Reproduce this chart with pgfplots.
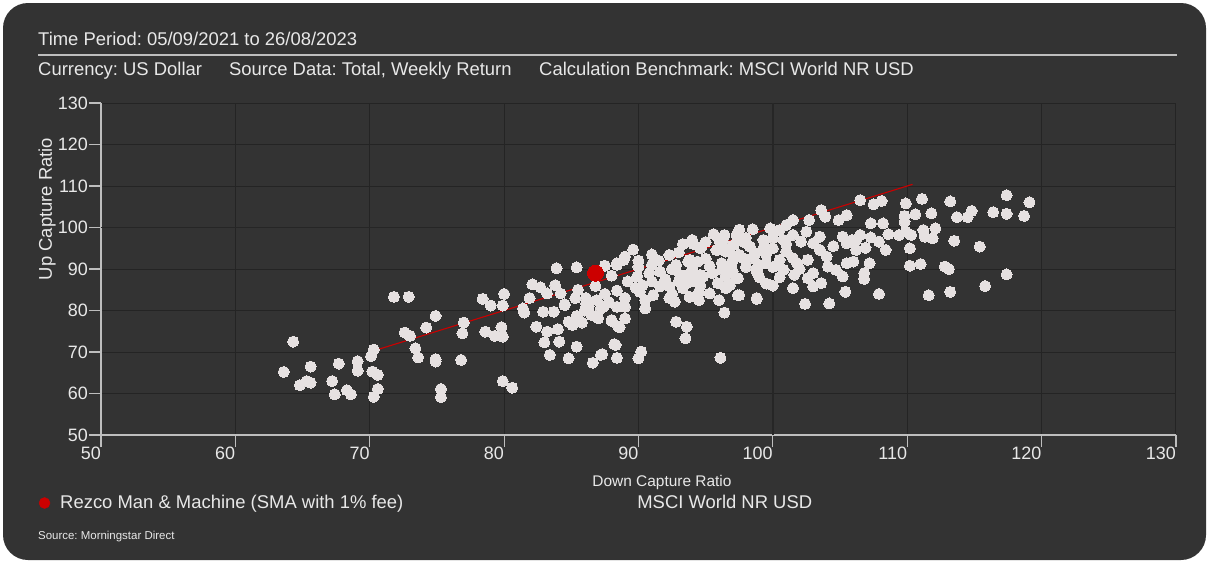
\documentclass[border=0pt]{standalone}
\usepackage{pgfplots}
\pgfplotsset{compat=1.18}
\usepackage{pgfplotstable}
\usepackage{fontspec}
\setmainfont{Liberation Sans}
\frenchspacing
\definecolor{bg}{RGB}{51,51,51}
\definecolor{txt}{RGB}{232,232,232}
\definecolor{ptc}{RGB}{230,225,225}
\definecolor{redc}{RGB}{204,0,0}
\definecolor{gridc}{RGB}{36,36,36}
\definecolor{axc}{RGB}{190,190,190}

\pgfplotstableread{
x y
71.8 83.3
72.9 83.3
74.9 78.7
74.2 75.9
72.6 74.7
73.0 73.9
64.3 72.5
70.3 70.6
70.1 69.0
73.4 70.9
73.6 68.7
74.9 68.3
74.9 67.7
69.1 67.8
67.7 67.2
65.6 66.5
63.6 65.2
69.1 65.5
70.2 65.3
70.6 64.5
65.3 63.0
64.8 62.0
65.6 62.6
67.2 63.0
68.3 60.8
68.6 59.8
67.4 59.8
70.6 61.1
70.3 59.2
75.3 61.1
75.3 59.1
83.9 90.2
85.4 90.4
87.5 90.8
88.4 91.0
88.0 88.4
82.1 86.3
82.7 85.6
83.8 86.1
83.2 84.1
84.2 84.1
78.4 82.8
80.0 84.0
81.9 83.0
79.0 81.2
79.9 81.2
81.4 80.5
81.5 79.5
82.9 79.7
83.7 79.7
84.5 81.5
85.3 83.0
86.1 83.0
86.9 82.5
87.2 80.5
86.5 78.9
87.0 78.1
85.4 78.7
85.8 77.1
84.8 77.3
77.0 77.1
76.9 74.5
78.6 74.9
79.3 73.9
79.8 76.0
79.9 73.7
82.4 76.1
83.2 74.9
84.0 75.5
88.0 77.5
83.0 72.3
84.1 72.5
85.4 71.3
83.4 69.3
84.8 68.5
86.6 67.4
87.2 69.3
76.8 68.1
79.9 63.0
80.6 61.4
88.4 84.8
88.5 76.1
88.3 71.7
88.4 68.6
86.3 81.0
87.8 82.0
86.0 80.0
86.8 85.9
88.4 80.9
88.9 92.2
84.5 81.3
85.1 76.5
86.1 81.7
87.4 80.9
89.6 94.7
89.0 93.0
88.4 91.4
93.3 96.0
94.1 96.0
95.6 98.4
96.4 98.2
97.3 98.2
98.5 99.6
92.3 93.4
94.6 95.0
95.9 94.6
96.8 94.2
98.0 96.2
98.7 93.8
99.4 95.4
99.5 91.4
92.8 91.0
93.7 91.8
94.4 91.8
95.3 90.6
96.2 91.4
96.9 90.6
97.8 92.6
98.8 89.3
97.4 87.8
89.9 88.2
90.8 89.0
91.6 89.4
93.1 88.6
93.8 88.6
94.8 88.2
95.9 86.6
96.8 86.1
89.2 87.0
90.3 86.1
91.6 85.8
92.3 85.8
93.3 85.4
94.6 86.1
95.3 84.1
97.4 83.7
98.8 82.8
90.1 84.5
91.1 83.7
92.3 83.0
92.7 82.1
93.8 83.3
89.0 83.0
89.0 80.9
90.5 80.5
89.0 78.1
88.0 77.7
96.4 79.5
88.6 76.0
92.8 77.3
93.6 76.1
93.5 73.3
88.2 71.9
87.3 69.5
90.2 70.1
90.0 68.5
96.1 68.6
106.5 106.6
105.5 103.0
104.9 101.8
103.6 104.2
103.9 102.6
102.7 101.8
101.5 101.8
101.0 100.6
100.5 99.4
99.8 99.8
97.4 98.2
94.7 95.4
96.3 96.6
97.1 95.8
97.8 96.6
98.3 95.4
99.3 97.0
99.3 95.0
100.0 95.0
100.8 97.0
101.5 98.2
102.1 96.6
103.0 96.2
103.5 97.8
103.5 94.6
105.2 97.8
105.5 96.2
106.2 97.0
106.2 94.6
95.8 94.6
96.5 94.2
97.5 93.4
98.5 92.6
100.5 92.2
101.0 94.2
101.5 92.6
101.8 91.4
102.6 92.2
100.8 89.8
101.6 88.6
102.6 87.8
103.6 86.6
103.0 85.8
104.1 90.6
104.7 89.8
105.5 91.4
105.2 88.2
105.4 84.5
101.5 85.4
102.4 81.6
104.2 81.7
98.8 89.8
97.3 87.8
97.5 83.7
98.8 83.0
96.5 85.4
95.3 90.7
94.6 88.6
93.8 92.2
93.6 86.6
96.2 89.8
107.5 105.6
108.1 106.4
109.9 105.8
111.1 106.9
113.2 106.3
117.4 107.8
119.1 106.1
114.8 104.0
114.5 102.5
113.7 102.5
116.4 103.7
117.4 103.3
118.7 102.8
111.8 103.4
110.6 103.2
109.8 102.8
109.8 101.4
108.2 101.0
107.3 101.0
106.5 98.2
107.3 97.6
107.9 96.6
108.6 98.4
109.4 98.2
109.9 99.0
110.3 98.2
111.2 99.4
111.3 97.8
112.1 99.8
111.9 97.4
113.5 96.8
115.4 95.4
110.2 95.0
105.9 97.0
106.9 95.1
108.4 94.6
106.0 91.8
107.2 91.4
110.2 90.8
111.0 91.2
112.8 90.6
113.1 90.0
106.8 89.0
106.8 87.6
117.4 88.7
115.8 85.9
113.2 84.5
111.6 83.7
107.9 84.0
91.0 87.0
92.0 87.5
93.0 87.0
94.0 87.0
92.5 84.0
90.5 82.5
94.5 84.5
95.0 92.5
97.0 92.0
98.0 90.5
99.5 93.5
100.0 97.5
91.0 91.0
90.0 90.5
91.5 92.0
92.5 90.0
94.0 90.0
95.5 89.0
96.5 88.0
97.0 89.5
99.0 91.0
100.0 90.5
99.0 88.0
100.5 88.0
102.0 90.0
103.0 89.0
104.0 93.0
104.5 95.5
102.5 99.0
101.0 96.0
98.0 97.5
96.0 97.0
95.0 96.5
93.0 94.0
91.0 93.5
90.0 92.0
92.0 86.5
94.5 82.5
96.0 82.5
99.5 86.5
100.0 86.0
89.8 85.5
87.5 84.0
85.5 85.0
97.5 99.5
94.0 97.0
}\pts

\begin{document}
\begin{tikzpicture}
\path[use as bounding box, fill=white] (0bp,0bp) rectangle (1209bp,-563bp);
\fill[bg, rounded corners=25bp] (3bp,-3bp) rectangle (1206bp,-560bp);
\begin{scope}[every node/.style={anchor=base west, inner sep=0pt, text=txt, font=\fontsize{18.5}{18.5}\selectfont}]
\node at (38bp,-45bp) {Time Period: 05/09/2021 to 26/08/2023};
\node at (38bp,-75bp) {Currency: US Dollar};
\node at (229bp,-75bp) {Source Data: Total, Weekly Return};
\node at (539bp,-75bp) {Calculation Benchmark: MSCI World NR USD};
\node[font=\fontsize{11.5}{11.5}\selectfont] at (38bp,-539bp) {Source: Morningstar Direct};
\end{scope}
\draw[axc, line width=1.2bp] (38bp,-55bp) -- (1177bp,-55bp);

\begin{axis}[
  at={(101bp,-435bp)}, anchor=south west,
  scale only axis, width=1075bp, height=332bp,
  xmin=50, xmax=130, ymin=50, ymax=130,
  xtick={50,60,...,130}, ytick={50,60,...,130},
  axis lines*=left,
  axis line style={axc, line width=1.5bp},
  tick align=outside, major tick length=12bp,
  tick style={axc, line width=1.2bp},
  grid=major, major grid style={gridc, line width=1bp},
  /pgf/number format/assume math mode=true,
  ticklabel style={text=txt, font=\fontsize{18}{18}\selectfont},
  xticklabel style={anchor=north east, inner sep=0pt},
  yticklabel style={anchor=east, inner sep=0pt, xshift=-1bp},
  xlabel={Down Capture Ratio},
  xlabel style={at={(axis description cs:0.5219,-0.1416)}, anchor=center, text=txt, font=\fontsize{15.5}{15.5}\selectfont},
  ylabel={Up Capture Ratio},
  ylabel style={at={(axis description cs:-0.0502,0.681)}, anchor=center, text=txt, font=\fontsize{18.5}{18.5}\selectfont},
  legend columns=2,
  legend cell align=left,
  legend style={at={(axis description cs:-0.058,-0.2048)}, anchor=west, draw=none, fill=none,
    text=txt, font=\fontsize{18.5}{18.5}\selectfont, inner sep=0pt,
    /tikz/every odd column/.append style={column sep=8bp},
    /tikz/every even column/.append style={column sep=222bp}},
]
\addplot[black!85, line width=1.6bp, forget plot] coordinates {(100,50) (100,130)};
\addplot[black!85, line width=1.6bp, forget plot] coordinates {(50,100) (130,100)};
\addplot[only marks, mark=*, mark size=5.5bp, color=ptc, mark options={fill=ptc, draw=ptc, line width=0pt}, forget plot] table[x=x, y=y] {\pts};
\addplot[redc, line width=1.1bp, forget plot] coordinates {(70.5,70.5) (110.4,110.4)};
\addplot[only marks, mark=*, mark size=8bp, color=redc, mark options={fill=redc, draw=redc, line width=0pt},
  legend image code/.code={\fill[redc] (5.5bp,0bp) circle (5.5bp);}] coordinates {(86.8,89.0)};
\addlegendentry{Rezco Man \& Machine (SMA with 1\% fee)}
\addlegendimage{empty legend}
\addlegendentry{MSCI World NR USD}
\end{axis}
\end{tikzpicture}
\end{document}
